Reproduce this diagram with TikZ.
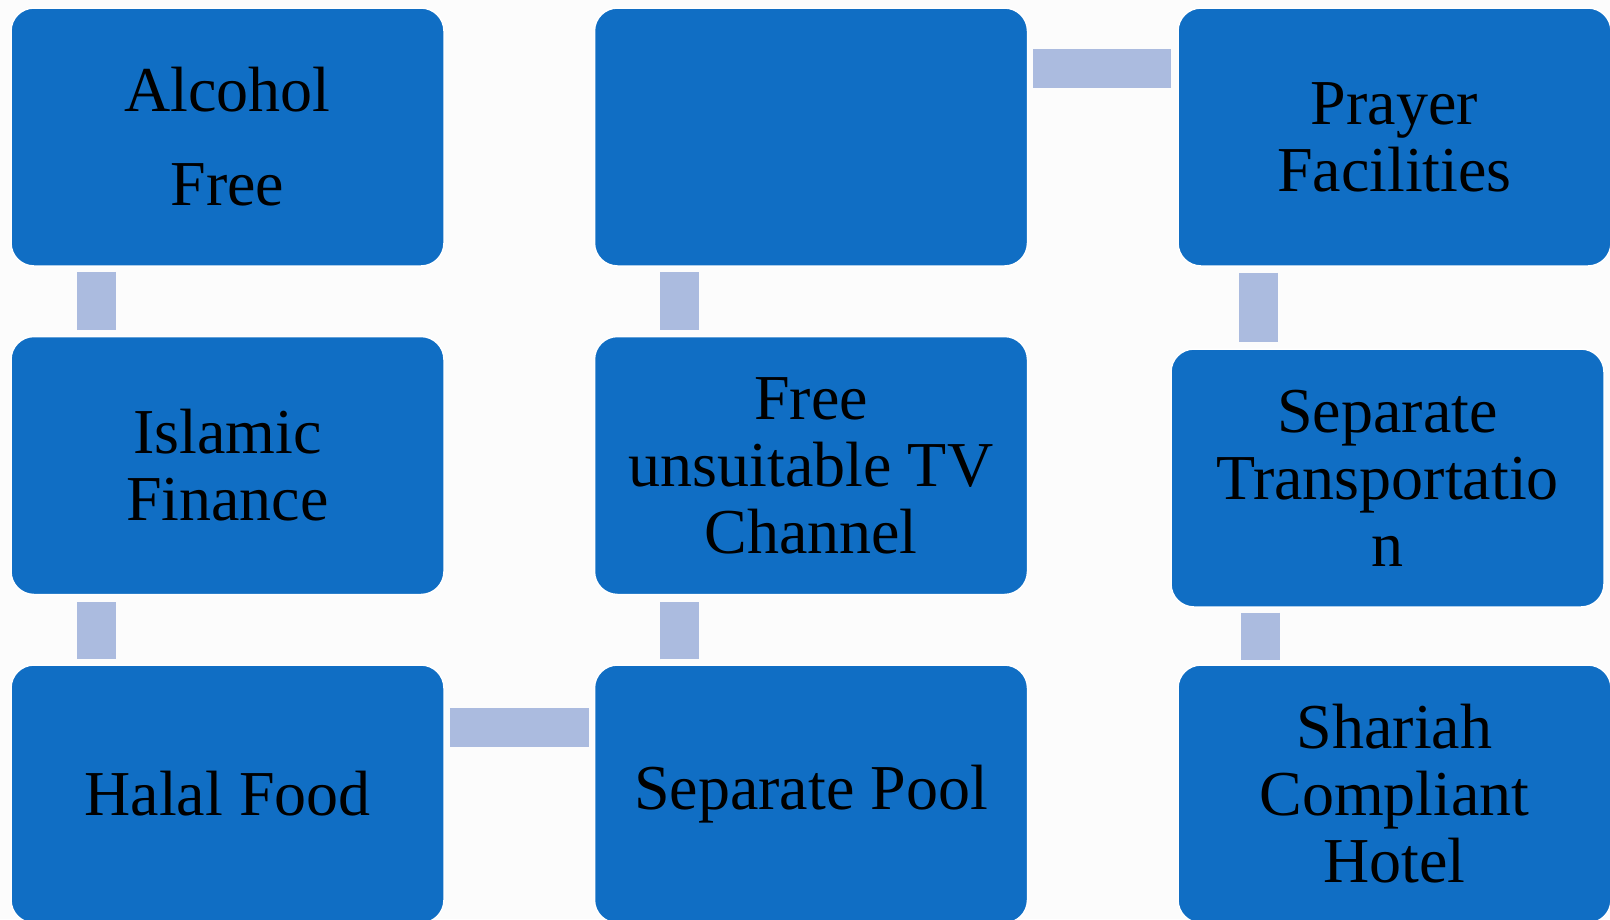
\documentclass[tikz,border=0pt]{standalone}
\usepackage{fontspec}
\setmainfont{Liberation Serif}
\definecolor{boxblue}{HTML}{106EC4}
\definecolor{linkblue}{HTML}{ABBBDF}
\definecolor{paper}{HTML}{FCFCFC}
\begin{document}
\begin{tikzpicture}[x=1pt,y=-1pt,
  item/.style={rounded corners=23pt, fill=boxblue, draw=white, line width=1.5pt,
    minimum width=433pt, minimum height=258pt, inner sep=0pt, align=center,
    text=black, font=\fontsize{64}{67}\selectfont},
  vlink/.style={draw=linkblue, line width=39pt},
  hlink/.style={draw=linkblue, line width=39pt}]
  % canvas
  \fill[paper] (0,0) rectangle (1610,919);
  \useasboundingbox (0,0) rectangle (1610,919);

  % column 1
  \node[item] (alcohol) at (227.5,137) {Alcohol\\[27pt]Free};
  \node[item] (finance) at (227.5,465.5) {Islamic\\Finance};
  \node[item] (halal)   at (227.5,794) {\raisebox{-4pt}{Halal Food}};
  % column 2
  \node[item] (blank)   at (811,137) {};
  \node[item] (tv)      at (811,465.5) {Free\\unsuitable TV\\Channel};
  \node[item] (pool)    at (811,794) {\raisebox{-4pt}{Separate Pool}};
  % column 3
  \node[item] (prayer)  at (1394.5,137) {Prayer\\Facilities};
  \node[item] (transport) at (1387.5,478) {Separate\\Transportatio\\n};
  \node[item] (hotel)   at (1394.5,794) {Shariah\\Compliant\\Hotel};

  % links down the first column
  \draw[vlink] ([xshift=86pt,yshift=-5pt]alcohol.south west) -- ([xshift=86pt,yshift=6pt]finance.north west);
  \draw[vlink] ([xshift=86pt,yshift=-7pt]finance.south west) -- ([xshift=86pt,yshift=5pt]halal.north west);
  % across the bottom
  \draw[hlink] ([xshift=5pt,yshift=-63pt]halal.north east) -- ([xshift=-5pt,yshift=-63pt]pool.north west);
  % up the second column
  \draw[vlink] ([xshift=86pt,yshift=5pt]pool.north west) -- ([xshift=86pt,yshift=-7pt]tv.south west);
  \draw[vlink] ([xshift=86pt,yshift=6pt]tv.north west) -- ([xshift=86pt,yshift=-5pt]blank.south west);
  % across the top
  \draw[hlink] ([xshift=5pt,yshift=-61.5pt]blank.north east) -- ([xshift=-6pt,yshift=-61.5pt]prayer.north west);
  % down the third column
  \draw[vlink] ([xshift=81pt,yshift=-6pt]prayer.south west) -- ([xshift=88pt,yshift=6pt]transport.north west);
  \draw[vlink] ([xshift=90pt,yshift=-5pt]transport.south west) -- ([xshift=83pt,yshift=4pt]hotel.north west);
\end{tikzpicture}
\end{document}
